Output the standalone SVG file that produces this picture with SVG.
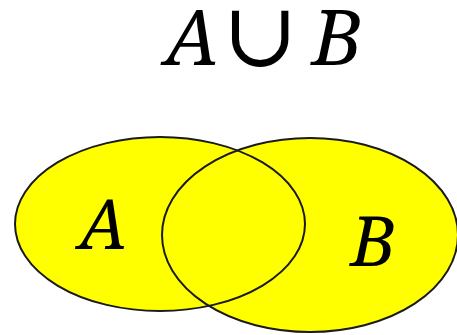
<svg xmlns="http://www.w3.org/2000/svg" width="457" height="335" viewBox="0 0 457 335">
<style>
.fill{fill:#ffff00;stroke:none}
.edge{fill:none;stroke:#1a1a1a;stroke-width:2}
text{font-family:'Noto Serif','Liberation Serif','DejaVu Serif',serif;fill:#000}
.i{font-style:italic}
</style>
<rect width="457" height="335" fill="#fff"/>
<g id="title">
<text class="i" x="192" y="65" font-size="77" text-anchor="middle">A</text>
<text x="260" y="66" font-size="90" text-anchor="middle" style="font-family:'Liberation Serif','DejaVu Serif',serif">∪</text>
<text class="i" x="337" y="65" font-size="77" text-anchor="middle">B</text>
</g>
<g id="fills">
<ellipse class="fill" cx="160" cy="224" rx="145" ry="87"/>
<ellipse class="fill" cx="310" cy="235" rx="148" ry="97"/>
</g>
<g id="setA">
<ellipse class="edge" cx="160" cy="224" rx="145" ry="87"/>
<text class="i" x="103" y="249" font-size="69" text-anchor="middle">A</text>
</g>
<g id="setB">
<ellipse class="edge" cx="310" cy="235" rx="148" ry="97"/>
<text class="i" x="373" y="266" font-size="69" text-anchor="middle">B</text>
</g>
</svg>
